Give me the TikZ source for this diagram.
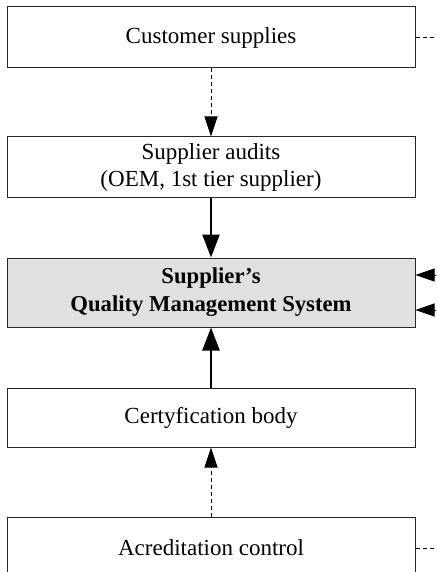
\documentclass[tikz,border=0pt]{standalone}
\usepackage{fontspec}
\setmainfont{Liberation Serif}
\usetikzlibrary{arrows.meta, positioning}

\begin{document}
\begin{tikzpicture}[
        box/.style={draw=black!85, line width=1pt, minimum width=408pt, inner sep=0pt, align=center, font=\fontsize{23}{27}\selectfont},
        dasharrow/.style={-{Triangle[length=20pt, width=13pt]}, dash pattern=on 4pt off 3pt, line width=0.8pt},
        boldarrow/.style={-{Triangle[length=23pt, width=17pt]}, line width=2.5pt},
        sidearrow/.style={-{Triangle[length=19pt, width=13pt]}, line width=0.8pt},
        sideline/.style={dash pattern=on 4pt off 3pt, line width=0.8pt}
    ]
    \clip (0pt,0pt) rectangle (436pt,-572pt);

    % Customer supplies
    \node[box, minimum height=61pt] (customer) at (211pt,-37.5pt) {Customer supplies};

    % Supplier audits
    \node[box, minimum height=60pt, below=68pt of customer] (audits) {Supplier audits\\(OEM, 1st tier supplier)};

    % Quality Management System
    \node[box, minimum height=69pt, fill=black!12, font=\fontsize{22.7}{28}\selectfont\bfseries, below=60pt of audits] (qms) {Supplier's\\Quality Management System};

    % Certyfication body
    \node[box, minimum height=59pt, below=60pt of qms] (certbody) {Certyfication body};

    % Acreditation control
    \node[box, minimum height=62pt, below=69pt of certbody] (acred) {Acreditation control};

    % Free ends on the right
    \coordinate[right=25pt of customer.east] (custout);
    \coordinate[right=25pt of qms.east, yshift=17.5pt] (qmsinA);
    \coordinate[right=25pt of qms.east, yshift=-17.5pt] (qmsinB);
    \coordinate[right=25pt of acred.east] (acredout);

    % Arrows
    \draw[dasharrow] (customer) -- (audits);
    \draw[boldarrow] (audits) -- (qms);
    \draw[boldarrow] (certbody) -- (qms);
    \draw[dasharrow] (acred) -- (certbody);

    \draw[sideline] (customer.east) -- (custout);
    \draw[sidearrow] (qmsinA) -- (qmsinA -| qms.east);
    \draw[sidearrow] (qmsinB) -- (qmsinB -| qms.east);
    \draw[sideline] (acred.east) -- (acredout);

\end{tikzpicture}
\end{document}
